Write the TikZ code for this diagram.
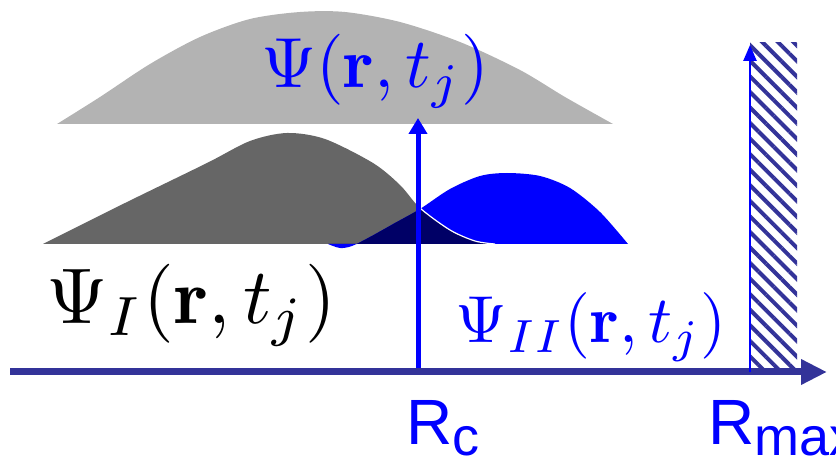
\documentclass[tikz,border=0pt]{standalone}
\usepackage{fontspec}
\usepackage{amsmath}
\usepackage{tikz}
\usetikzlibrary{arrows.meta,positioning,patterns.meta}
\newfontfamily\labelfont{Liberation Sans}
\definecolor{psiLight}{HTML}{B3B3B3}
\definecolor{psiDark}{HTML}{666666}
\definecolor{psiBlue}{HTML}{0000FF}
\definecolor{overlapNavy}{HTML}{000066}
\definecolor{axisNavy}{HTML}{333399}
\newcommand{\wavetotal}{plot[smooth] coordinates {(57,124) (100,97) (150,64) (200,37) (250,19) (300,12) (345,12) (400,22) (460,42) (520,70) (565,97) (613,124)}}
\newcommand{\waveone}{plot[smooth] coordinates {(43,244) (125,203) (207,163) (250,141) (287,133) (325,139) (373,163) (400,185) (420,208) (450,230) (475,241) (495,244)}}
\newcommand{\wavetwo}{plot[smooth] coordinates {(328,244) (340,248) (352,246) (370,237) (395,223) (420,209) (450,189) (480,176) (507,173) (540,176) (570,188) (600,212) (628,244)}}

\begin{document}
\begin{tikzpicture}[x=1pt,y=-1pt,>=Stealth,
  mathlabel/.style={inner sep=0pt},
  rlabel/.style={inner sep=0pt,anchor=base west,text=psiBlue,font=\labelfont\fontsize{64}{70}\selectfont}]
  \useasboundingbox (0,0) rectangle (836,462);

  % Wave packets
  \fill[psiLight] \wavetotal -- cycle;
  \fill[psiDark] \waveone -- cycle;
  \fill[psiBlue] \wavetwo -- cycle;
  \begin{scope}
    \clip \wavetwo -- cycle;
    \fill[overlapNavy] \waveone -- cycle;
    \draw[white,line width=1.2pt] \waveone;
  \end{scope}

  % Axis and boundaries
  \coordinate (origin) at (10,372);
  \coordinate (axisend) at (827,372);
  \coordinate (rc) at (418,372);
  \coordinate (rctop) at (418,118);
  \coordinate (rmax) at (750,372);
  \coordinate (rmaxtop) at (750,45);

  \fill[white] (750,43) rectangle (797,372);
  \fill[pattern={Lines[angle=-45,distance=11pt,line width=4pt]},pattern color=axisNavy]
    (750,43) rectangle (797,372);

  \draw[psiBlue,line width=5pt,-{Triangle[length=16pt,width=18pt]}] (rc) -- (rctop);
  \draw[axisNavy,line width=7pt,-{Triangle[length=26pt,width=24pt]}] (origin) -- (axisend);
  \draw[psiBlue,line width=2.5pt,-{Triangle[length=16pt,width=13pt]}] (rmax) -- (rmaxtop);

  % Labels
  \node[mathlabel,text=psiBlue,scale=7.1] (psi) at (375,71) {$\Psi(\mathbf{r},t_j)$};
  \node[mathlabel,scale=7.9] (psiI) at (191,305) {$\Psi_I(\mathbf{r},t_j)$};
  \node[mathlabel,text=psiBlue,scale=6.65] (psiII) at (591,327) {$\Psi_{II}(\mathbf{r},t_j)$};
  \node[rlabel] (rclabel) at (406,444) {R\raisebox{-11pt}{\fontsize{54}{58}\selectfont c}};
  \node[rlabel] (rmaxlabel) at (708,444) {R\raisebox{-11pt}{\fontsize{54}{58}\selectfont max}};
\end{tikzpicture}
\end{document}
